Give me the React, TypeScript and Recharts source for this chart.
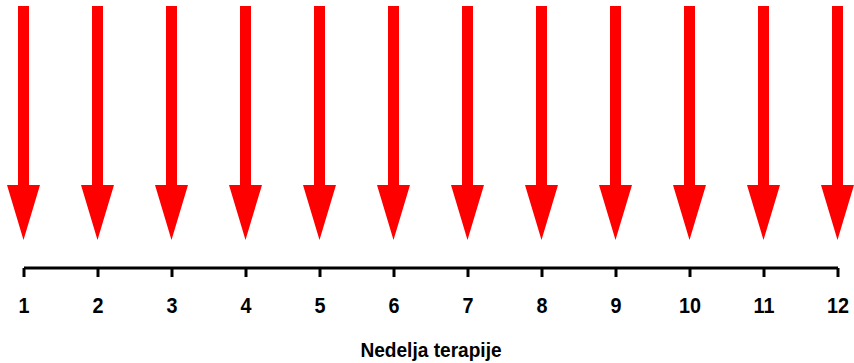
import { BarChart, Bar, XAxis, YAxis } from "recharts";

// therapy weeks and a dose marker (arrow) for each week
const WEEKS = [1, 2, 3, 4, 5, 6, 7, 8, 9, 10, 11, 12];
const DOSES = [1, 1, 1, 1, 1, 1, 1, 1, 1, 1, 1, 1];
const AXIS_TITLE = "Nedelja terapije";

const data = WEEKS.map((w, i) => ({ week: w, dose: DOSES[i] }));

// arrow pointing down, filling the bar's box
function Arrow(props: any) {
  const { x, y, width, height } = props;
  if (width == null || height == null) return null;
  const top = Math.min(y, y + height);
  const bottom = Math.max(y, y + height);
  const cx = x + width / 2;
  const shaft = 11;
  const head = 55;
  const neck = bottom - head;
  const pts = [
    [cx - shaft / 2, top],
    [cx + shaft / 2, top],
    [cx + shaft / 2, neck],
    [x + width, neck],
    [cx, bottom],
    [x, neck],
    [cx - shaft / 2, neck],
  ]
    .map((p) => p.join(","))
    .join(" ");
  return <polygon points={pts} fill="#ff0000" />;
}

// slightly condensed bold tick label
function WeekTick(props: any) {
  const { x, y, payload } = props;
  return (
    <text
      transform={`translate(${x},${y + 16}) scale(0.9,1)`}
      textAnchor="middle"
      fill="#000"
      fontSize={22}
      fontWeight="bold"
    >
      {payload.value}
    </text>
  );
}

function AxisTitle(props: any) {
  const { viewBox } = props;
  const cx = viewBox.x + viewBox.width / 2;
  return (
    <text
      transform={`translate(${cx},357) scale(0.91,1)`}
      textAnchor="middle"
      fill="#000"
      fontSize={21}
      fontWeight="bold"
    >
      {AXIS_TITLE}
    </text>
  );
}

export default function App() {
  return (
    <div
      style={{
        position: "absolute",
        left: 0,
        top: 0,
        fontFamily: "'Liberation Sans', Arial, sans-serif",
      }}
    >
      <BarChart
        width={854}
        height={363}
        data={data}
        margin={{ top: 6, right: 16, bottom: 0, left: 24 }}
      >
        <XAxis
          dataKey="week"
          type="number"
          domain={[1, 12]}
          ticks={WEEKS}
          interval={0}
          height={95}
          axisLine={{ stroke: "#000", strokeWidth: 3 }}
          tickLine={{ stroke: "#000", strokeWidth: 3 }}
          tickSize={9}
          tickMargin={20}
          tick={<WeekTick />}
          label={<AxisTitle />}
        />
        <YAxis hide reversed domain={[0, 1.12]} />
        <Bar
          dataKey="dose"
          barSize={33}
          shape={<Arrow />}
          isAnimationActive={false}
        />
      </BarChart>
    </div>
  );
}
